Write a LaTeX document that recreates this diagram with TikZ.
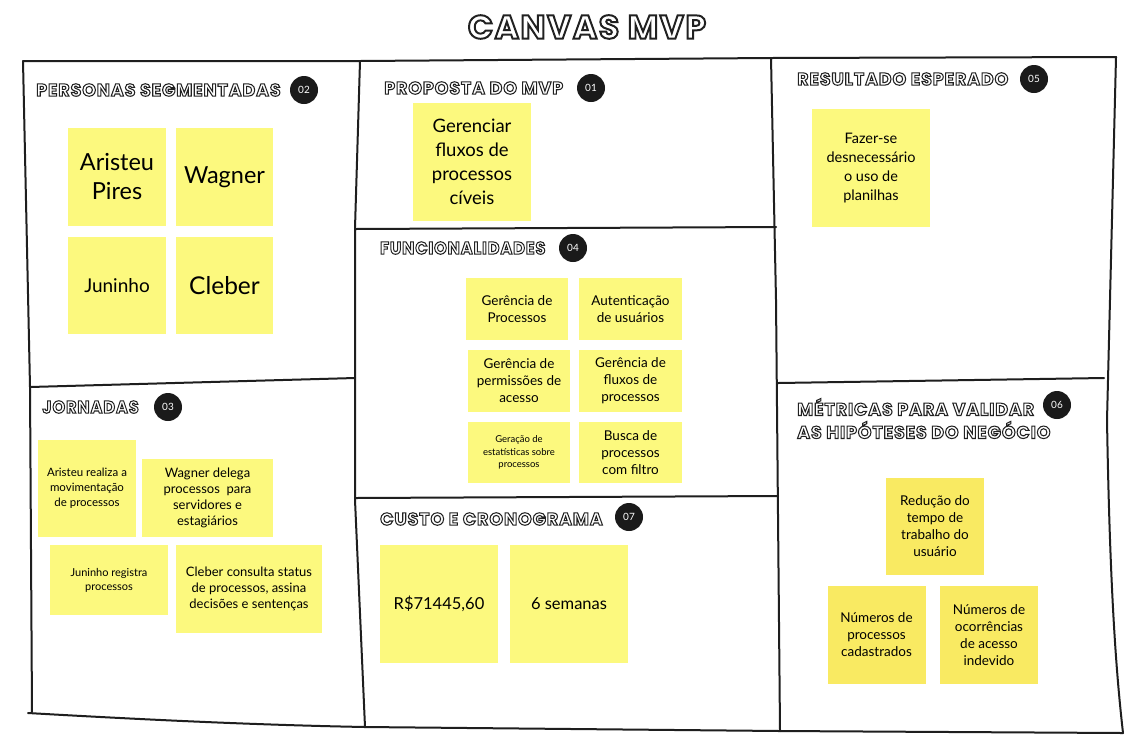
\documentclass[tikz,border=0pt]{standalone}
\usepackage{fontspec}
\setmainfont{Lato}
\newfontfamily\stfont{Lato}
\newfontfamily\hdfont{Poppins}[LetterSpace=5, BoldFeatures={FakeBold=6}]
\newfontfamily\bdfont{Lato}
\definecolor{framec}{HTML}{1E1E1E}
\definecolor{badgec}{HTML}{1A1A1A}
\definecolor{stickyc}{HTML}{FCF97E}
\definecolor{stickyd}{HTML}{F9EA62}
\newcommand\outl[1]{\color{white}\special{pdf:code 0.13 0.13 0.13 RG}#1}
\tikzset{
  frameline/.style={draw=framec, line width=2pt, line cap=round, line join=round},
  sticky/.style={fill=stickyc, inner sep=0pt, align=center, text=black},
  stickym/.style={sticky, fill=stickyd},
  badge/.style={circle, fill=badgec, text=white, minimum size=28pt, inner sep=0pt, font=\bdfont\fontsize{10}{12}\selectfont},
  header/.style={anchor=west, inner sep=0pt, font=\hdfont\bfseries\fontsize{17.5}{23}\selectfont},
}
\begin{document}
\begin{tikzpicture}[x=1pt,y=-1pt]
\useasboundingbox[fill=white] (0,0) rectangle (1139,740);

% title
\node[inner sep=0pt, font=\hdfont\bfseries\fontsize{33}{40}\selectfont] (title) at (587,27) {\outl{CANVAS MVP}};

% frame
\draw[frameline] (23,61) -- (360,61) -- (771,58) -- (1116,57);
\draw[frameline] (23,61) -- (30,387) -- (32,712);
\draw[frameline] (28,713) .. controls (150,720) and (260,725) .. (365,727) -- (780,731) -- (1123,733);
\draw[frameline] (1116,57) -- (1107,420) .. controls (1110,600) and (1117,680) .. (1123,733);
\draw[frameline] (360,61) -- (355,228) -- (355,500) -- (365,727);
\draw[frameline] (771,58) -- (776,300) -- (780,731);
\draw[frameline] (30,387) -- (355,378);
\draw[frameline] (355,229) -- (776,227);
\draw[frameline] (355,498) -- (778,496);
\draw[frameline] (778,383) -- (1104,378);

% headers
\node[header] (h02) at (36,90) {\outl{PERSONAS SEGMENTADAS}};
\node[badge] (b02) at (304,90) {02};
\node[header] (h01) at (384,88) {\outl{PROPOSTA DO MVP}};
\node[badge] (b01) at (591,88) {01};
\node[header] (h05) at (797,79) {\outl{RESULTADO ESPERADO}};
\node[badge] (b05) at (1034,79) {05};
\node[header] (h04) at (380,248) {\outl{\scalebox{0.93}[1]{FUNCIONALIDADES}}};
\node[badge] (b04) at (573,248) {04};
\node[header] (h03) at (42,407) {\outl{\scalebox{0.93}[1]{JORNADAS}}};
\node[badge] (b03) at (168,407) {03};
\node[header] (h07) at (380,519) {\outl{CUSTO E CRONOGRAMA}};
\node[badge] (b07) at (629,517) {07};
\node[header, align=left] (h06) at (797,418.5) {\outl{MÉTRICAS PARA VALIDAR}\\\outl{AS HIPÓTESES DO NEGÓCIO}};
\node[badge] (b06) at (1057,405) {06};

% personas
\node[sticky, minimum width=98pt, minimum height=98pt, font=\stfont\fontsize{23.5}{29}\selectfont] (p1) at (117,177) {Aristeu\\Pires};
\node[sticky, minimum width=97pt, minimum height=98pt, font=\stfont\fontsize{23.5}{29}\selectfont] (p2) at (224.5,177) {Wagner};
\node[sticky, minimum width=98pt, minimum height=97pt, font=\stfont\fontsize{19}{22}\selectfont] (p3) at (117,285.5) {Juninho};
\node[sticky, minimum width=97pt, minimum height=97pt, font=\stfont\fontsize{24.5}{29}\selectfont] (p4) at (224.5,285.5) {Cleber};

% proposta
\node[sticky, minimum width=118pt, minimum height=118pt, font=\stfont\fontsize{18.5}{24}\selectfont] (prop) at (472,162) {Gerenciar\\fluxos de\\processos\\cíveis};

% resultado
\node[sticky, minimum width=118pt, minimum height=118pt, font=\stfont\fontsize{14.5}{19}\selectfont] (res) at (871,168) {Fazer-se\\desnecessário\\o uso de\\planilhas};

% funcionalidades
\tikzset{func/.style={sticky, minimum width=102pt, minimum height=62pt, font=\stfont\fontsize{13.5}{17}\selectfont}}
\node[func] (f1) at (517,309) {Gerência de\\Processos};
\node[func, minimum width=103pt] (f2) at (630.5,309) {Autenticação\\de usuários};
\node[func] (f3) at (519,381) {Gerência de\\permissões de\\acesso};
\node[func, minimum width=103pt] (f4) at (630.5,381) {Gerência de\\fluxos de\\processos};
\node[func, minimum height=61pt, font=\stfont\fontsize{9.5}{12.5}\selectfont] (f5) at (519,452.5) {Geração de\\estatísticas sobre\\processos};
\node[func, minimum width=103pt, minimum height=61pt] (f6) at (630.5,452.5) {Busca de\\processos\\com filtro};

% jornadas
\node[sticky, minimum width=98pt, minimum height=97pt, font=\stfont\fontsize{11.5}{15}\selectfont] (j1) at (87,488.5) {Aristeu realiza a\\movimentação\\de processos};
\node[sticky, minimum width=131pt, minimum height=78pt, font=\stfont\fontsize{13}{16}\selectfont] (j2) at (207.5,498) {Wagner delega\\processos\ \ para\\servidores e\\estagiários};
\node[sticky, minimum width=118pt, minimum height=70pt, font=\stfont\fontsize{11}{14}\selectfont] (j3) at (109,580) {Juninho registra\\processos};
\node[sticky, minimum width=146pt, minimum height=88pt, font=\stfont\fontsize{13}{16}\selectfont] (j4) at (249,589) {Cleber consulta status\\de processos, assina\\decisões e sentenças};

% custo
\node[sticky, minimum width=118pt, minimum height=118pt, font=\stfont\fontsize{16.5}{20}\selectfont] (c1) at (439,604) {R\$71445,60};
\node[sticky, minimum width=118pt, minimum height=118pt, font=\stfont\fontsize{16.5}{20}\selectfont] (c2) at (569,604) {6 semanas};

% metricas
\tikzset{met/.style={stickym, minimum width=98pt, minimum height=97pt, font=\stfont\fontsize{13.5}{17}\selectfont}}
\node[met] (m1) at (935,526.5) {Redução do\\tempo de\\trabalho do\\usuário};
\node[met, minimum height=98pt] (m2) at (876.5,635) {Números de\\processos\\cadastrados};
\node[met, minimum height=98pt] (m3) at (989,635) {Números de\\ocorrências\\de acesso\\indevido};
\end{tikzpicture}
\end{document}
